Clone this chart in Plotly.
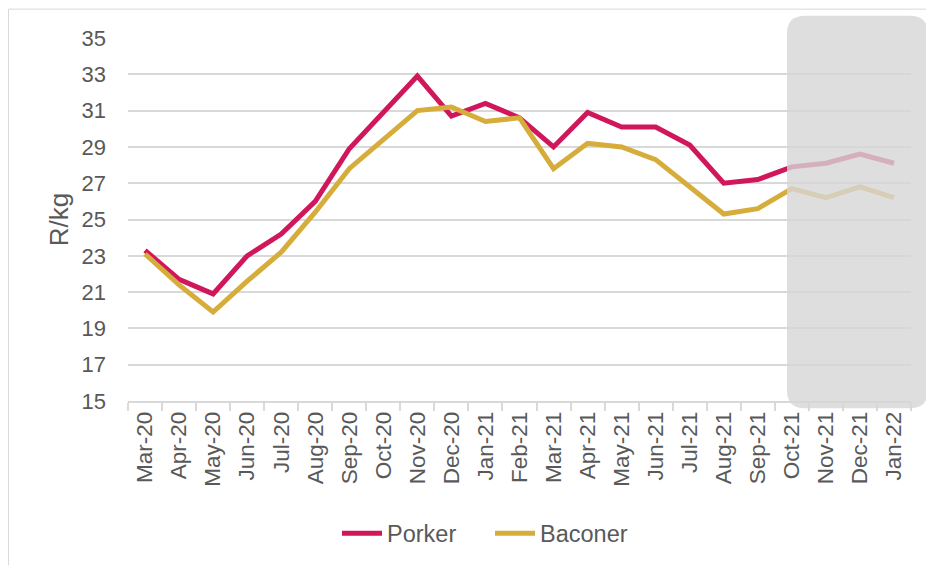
import plotly.graph_objects as go

months = ["Mar-20", "Apr-20", "May-20", "Jun-20", "Jul-20", "Aug-20", "Sep-20", "Oct-20",
          "Nov-20", "Dec-20", "Jan-21", "Feb-21", "Mar-21", "Apr-21", "May-21", "Jun-21",
          "Jul-21", "Aug-21", "Sep-21", "Oct-21", "Nov-21", "Dec-21", "Jan-22"]
porker = [23.3, 21.7, 20.9, 23.0, 24.2, 26.0, 28.9, 30.9, 32.9, 30.7, 31.4, 30.6,
          29.0, 30.9, 30.1, 30.1, 29.1, 27.0, 27.2, 27.9, 28.1, 28.6, 28.1]
baconer = [23.1, 21.4, 19.9, 21.6, 23.2, 25.4, 27.8, 29.4, 31.0, 31.2, 30.4, 30.6,
           27.8, 29.2, 29.0, 28.3, 26.8, 25.3, 25.6, 26.7, 26.2, 26.8, 26.2]
y_ticks = [15, 17, 19, 21, 23, 25, 27, 29, 31, 33, 35]

PINK = "#D0175C"
GOLD = "#D6AD3B"
TXT = "#595959"
GRID = "#D9D9D9"
FONT = "Liberation Sans, Arial, sans-serif"

fig = go.Figure()
fig.add_trace(go.Scatter(x=months, y=porker, name="Porker", mode="lines",
                         line=dict(color=PINK, width=5)))
fig.add_trace(go.Scatter(x=months, y=baconer, name="Baconer", mode="lines",
                         line=dict(color=GOLD, width=5)))

W, H = 926, 565
ml, mr, mt = 128, 15, 38.3
plot_bottom = 400.7
mb = H - plot_bottom
pw = W - ml - mr
ph = plot_bottom - mt

def px_x(s):
    return (s - ml) / pw

def px_y(s):
    return (plot_bottom - s) / ph

# rounded shaded forecast box (overlay)
x0, x1 = px_x(787), px_x(928)
yt, yb = px_y(16), px_y(408)
rx, ry = 18 / pw, 18 / ph
path = (f"M {x0+rx},{yt} L {x1-rx},{yt} Q {x1},{yt} {x1},{yt-ry} "
        f"L {x1},{yb+ry} Q {x1},{yb} {x1-rx},{yb} "
        f"L {x0+rx},{yb} Q {x0},{yb} {x0},{yb+ry} "
        f"L {x0},{yt-ry} Q {x0},{yt} {x0+rx},{yt} Z")
fig.add_shape(type="path", path=path, xref="paper", yref="paper",
              fillcolor="rgba(214,214,214,0.8)", line=dict(width=0), layer="above")

# outer chart border (left and top edges visible)
fig.add_shape(type="rect", xref="paper", yref="paper",
              x0=px_x(8.5), x1=px_x(1200), y0=px_y(9.5), y1=px_y(900),
              line=dict(color=GRID, width=1), fillcolor="rgba(0,0,0,0)", layer="below")

fig.update_layout(
    width=W, height=H,
    margin=dict(l=ml, r=mr, t=mt, b=mb, autoexpand=False),
    paper_bgcolor="white", plot_bgcolor="white",
    font=dict(family=FONT, color=TXT, size=22),
    showlegend=True,
    legend=dict(orientation="h", x=px_x(490), xanchor="center",
                y=px_y(533), yanchor="middle",
                font=dict(size=23.5, color=TXT), itemwidth=40,
                entrywidth=98, entrywidthmode="pixels",
                bgcolor="rgba(0,0,0,0)"),
)
fig.update_xaxes(type="category", tickangle=-90, tickson="boundaries",
                 ticks="outside", ticklen=8, tickcolor=GRID, tickwidth=1.5,
                 showline=True, linecolor=GRID, linewidth=1.5,
                 showgrid=False, tickfont=dict(size=22.5, color=TXT),
                 range=[-0.5, len(months) - 0.5])
fig.update_yaxes(range=[15, 35], tickvals=y_ticks, showgrid=True,
                 gridcolor=GRID, gridwidth=1.5, zeroline=False,
                 tickfont=dict(size=22, color=TXT), ticklabelstandoff=21,
                 title=dict(text="R/kg", font=dict(size=26, color=TXT), standoff=5))

fig.write_html("out.html", config={"displayModeBar": False},
               post_script="document.body.style.margin='0';document.body.style.overflow='hidden';")
